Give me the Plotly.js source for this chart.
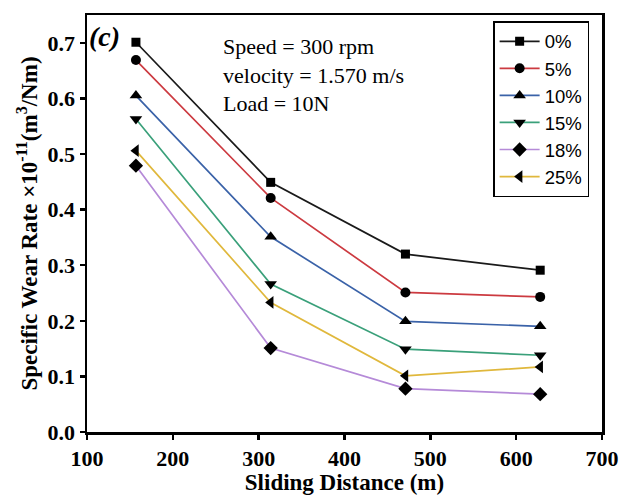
<!DOCTYPE html>
<html>
<head>
<meta charset="utf-8">
<script src="https://cdn.plot.ly/plotly-3.0.1.min.js"></script>
<style>html,body{margin:0;padding:0;background:#fff;}#chart{width:624px;height:495px;}</style>
</head>
<body>
<div id="chart"></div>
<script>
const distance = [157, 314, 471, 628];
const seriesNames = ["0%", "5%", "10%", "15%", "18%", "25%"];
const wear0  = [0.701, 0.449, 0.320, 0.291];
const wear5  = [0.669, 0.421, 0.251, 0.243];
const wear10 = [0.605, 0.351, 0.199, 0.190];
const wear15 = [0.563, 0.266, 0.149, 0.138];
const wear18 = [0.479, 0.151, 0.078, 0.068];
const wear25 = [0.506, 0.233, 0.101, 0.117];
const xTicks = [100, 200, 300, 400, 500, 600, 700];
const yTicks = [0.0, 0.1, 0.2, 0.3, 0.4, 0.5, 0.6, 0.7];

const seriesValues = [wear0, wear5, wear10, wear15, wear18, wear25];
const colors = ["#1a1a1a", "#cc3a40", "#3a62a8", "#3aa07a", "#b58ad8", "#e0b83c"];
const symbols = ["square", "circle", "triangle-up", "triangle-down", "diamond", "triangle-left"];
const sizes = [9, 10, 11, 11, 11, 11];

const traces = seriesValues.map((vals, i) => ({
  x: distance,
  y: vals,
  name: seriesNames[i],
  type: "scatter",
  mode: "lines+markers",
  line: {color: colors[i], width: 1.7},
  marker: {symbol: symbols[i], size: sizes[i], color: "#000"}
}));

const serif = "Liberation Serif, Times New Roman, serif";
const layout = {
  width: 624, height: 495,
  margin: {l: 87, r: 22, t: 15, b: 63},
  paper_bgcolor: "#fff", plot_bgcolor: "#fff",
  showlegend: true,
  xaxis: {
    range: [100, 700], tickvals: xTicks, ticktext: xTicks.map(String),
    showgrid: false, zeroline: false,
    showline: true, linecolor: "#000", linewidth: 2.5, mirror: true,
    ticks: "outside", ticklen: 5, tickwidth: 2.5, tickcolor: "#000",
    tickfont: {family: serif, size: 22, color: "#000", weight: "bold"},
    title: {text: "<b>Sliding Distance (m)</b>", font: {family: serif, size: 23, color: "#000"}, standoff: 3}
  },
  yaxis: {
    range: [0, 0.75], tickvals: yTicks, ticktext: yTicks.map(v => v.toFixed(1)),
    showgrid: false, zeroline: false,
    showline: true, linecolor: "#000", linewidth: 2.5, mirror: true,
    ticks: "outside", ticklen: 5, tickwidth: 2.5, tickcolor: "#000",
    tickfont: {family: serif, size: 22, color: "#000", weight: "bold"},
    title: {text: "<b>Specific Wear Rate ×10<sup>-11</sup>(m<sup>3</sup>/Nm)</b>", font: {family: serif, size: 23, color: "#000"}, standoff: 4}
  },
  legend: {
    x: 0.975, y: 0.985, xanchor: "right", yanchor: "top",
    bgcolor: "#fff", bordercolor: "#000", borderwidth: 1.5,
    font: {family: "Liberation Sans, Arial, sans-serif", size: 18.5, color: "#000"},
    tracegroupgap: 0, itemwidth: 40
  },
  annotations: [
    {xref: "paper", yref: "paper", x: 0.0, y: 0.99, xanchor: "left", yanchor: "top",
     text: "<b><i>(c)</i></b>", showarrow: false,
     font: {family: serif, size: 28, color: "#000"}},
    {xref: "paper", yref: "paper", x: 0.26, y: 0.96, xanchor: "left", yanchor: "top", align: "left",
     text: "Speed = 300 rpm<br>velocity = 1.570 m/s<br>Load = 10N", showarrow: false,
     font: {family: serif, size: 22, color: "#000"}}
  ]
};

Plotly.newPlot("chart", traces, layout, {displayModeBar: false, staticPlot: true});
</script>
</body>
</html>
